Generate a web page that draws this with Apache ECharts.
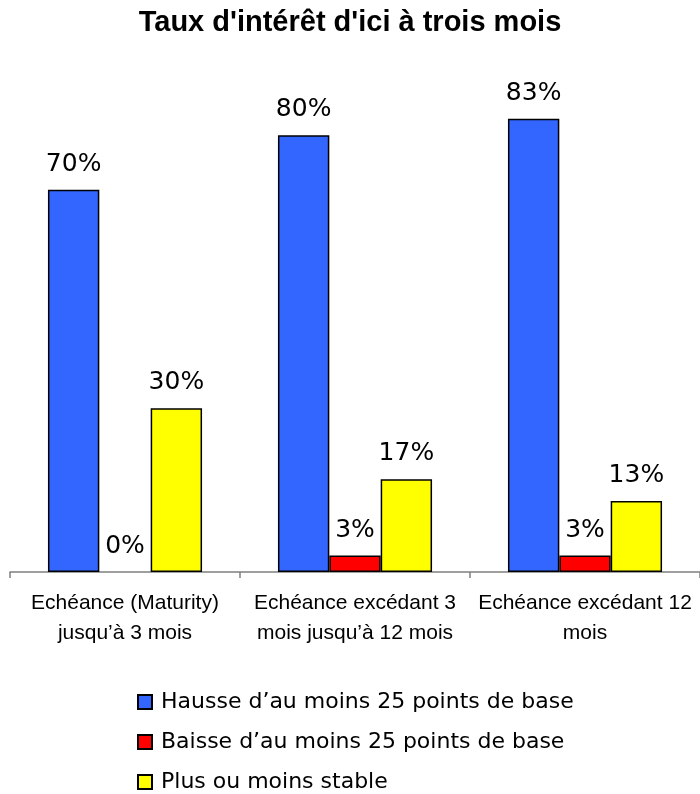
<!DOCTYPE html>
<html>
<head>
	<meta charset="utf-8">
	<title>Taux d'intérêt d'ici à trois mois</title>
	<style>
		html, body { margin: 0; padding: 0; background: #fff; }
	</style>
</head>
<body>
	<div style="width:700px;height:794px;" id="chart1"></div>

	<script src="https://cdn.jsdelivr.net/npm/echarts@6/dist/echarts.min.js"></script>
	<script type="text/javascript">

    var categories = [
        'Echéance (Maturity)\njusqu\u2019à 3 mois',
        'Echéance excédant 3\nmois jusqu\u2019à 12 mois',
        'Echéance excédant 12\nmois'
    ];
    var hausse = [70, 80, 83];
    var baisse = [0, 3, 3];
    var stable = [30, 17, 13];

    var names = [
        'Hausse d\u2019au moins 25 points de base',
        'Baisse d\u2019au moins 25 points de base',
        'Plus ou moins stable'
    ];
    var colors = ['#3366FF', '#FF0000', '#FFFF00'];

    function barSeries(name, data, color){
        return {
            name: name,
            type: 'bar',
            // a bar at 0 draws no outline on the axis
            data: data.map(function(v){
                return v === 0 ? {value: v, itemStyle: {borderWidth: 0}} : v;
            }),
            barGap: '0%',
            barCategoryGap: '33%',
            itemStyle: {
                color: color,
                borderColor: '#000',
                borderWidth: 1.5
            },
            label: {
                show: true,
                position: 'top',
                distance: 13,
                formatter: '{c}%',
                color: '#000',
                fontFamily: 'DejaVu Sans',
                fontSize: 25
            }
        };
    }

    var dom = document.getElementById('chart1');
    var myChart = echarts.init(dom);
    var option = {
        animation: false,
        title: {
            text: 'Taux d\'intérêt d\'ici à trois mois',
            left: 'center',
            top: 8,
            padding: 0,
            textStyle: {
                fontFamily: 'Liberation Sans',
                fontWeight: 'bold',
                fontSize: 29,
                color: '#000'
            }
        },
        legend: {
            orient: 'vertical',
            left: 137,
            top: 691,
            padding: 0,
            itemWidth: 14,
            itemHeight: 14,
            itemGap: 18,
            icon: 'rect',
            data: names,
            textStyle: {
                fontFamily: 'DejaVu Sans',
                fontSize: 22,
                lineHeight: 22,
                color: '#000',
                padding: [0, 0, 0, 4]
            }
        },
        grid: {
            left: 10,
            right: 0,
            top: 26,
            bottom: 222
        },
        xAxis: {
            type: 'category',
            data: categories,
            axisLine: { lineStyle: { color: '#808080', width: 1.5 } },
            axisTick: { show: true, length: 6, lineStyle: { color: '#808080', width: 1.5 } },
            axisLabel: {
                margin: 16,
                fontFamily: 'Liberation Sans',
                fontSize: 21,
                lineHeight: 30,
                color: '#000',
                interval: 0
            }
        },
        yAxis: {
            type: 'value',
            min: 0,
            max: 100,
            show: false,
            splitLine: { show: false }
        },
        series: [
            barSeries(names[0], hausse, colors[0]),
            barSeries(names[1], baisse, colors[1]),
            barSeries(names[2], stable, colors[2])
        ]
    };
    myChart.setOption(option, true);

	</script>
</body>
</html>
